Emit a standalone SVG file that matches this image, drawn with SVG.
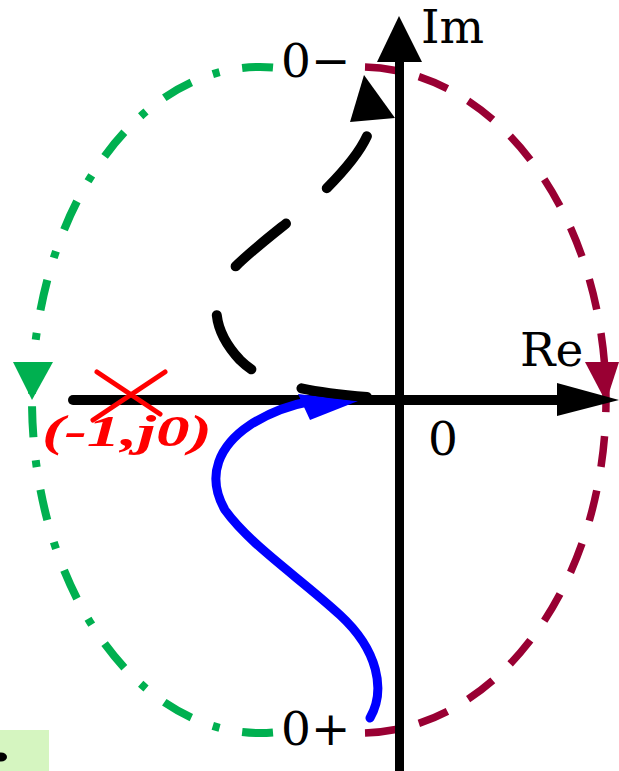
<svg xmlns="http://www.w3.org/2000/svg" width="619" height="771" viewBox="0 0 619 771">
<style>
.green{fill:none;stroke:#00b050;stroke-width:8;stroke-dasharray:31 23 7 23}
.purple{fill:none;stroke:#990033;stroke-width:7.5;stroke-dasharray:31 24}
.axis{fill:none;stroke:#000;stroke-width:10;stroke-linecap:round}
.lbl{font-family:"DejaVu Serif",serif;font-size:47px;fill:#000}
</style>
<rect width="619" height="771" fill="#fff"/>
<g id="bg-box">
<rect x="0" y="730" width="49" height="41" fill="#d5f5c0"/>
<ellipse cx="1" cy="757" rx="6" ry="4.5" fill="#000"/>
</g>
<g id="connectors">
<g id="green-arc">
<path class="green" d="M273,67.5 A228,333 0 0 0 32,400"/>
<path class="green" d="M273,732.5 A228,333 0 0 1 32,400"/>
<polygon points="13,362 53,362 32,400" fill="#00b050"/>
</g>
<g id="purple-arc">
<path class="purple" d="M365,67 A246,333 0 0 1 606,400"/>
<path class="purple" d="M365,733 A246,333 0 0 0 606,400"/>
<polygon points="585,362 619,362 606,402" fill="#990033"/>
</g>
<g id="axes">
<line class="axis" x1="73" y1="400" x2="565" y2="400"/>
<polygon points="557,383 557,416 619,400" fill="#000"/>
<line x1="399.5" y1="55" x2="399.5" y2="771" stroke="#000" stroke-width="9"/>
<polygon points="377,62 422,62 399,16" fill="#000"/>
</g>
<g id="blue-curve">
<path d="M370,718 C386,690 378,650 340,615 C300,578 250,545 225,510 C205,475 220,445 250,425 C270,412 290,405 312,401" fill="none" stroke="#0000ff" stroke-width="9" stroke-linecap="round"/>
<polygon points="298,394 358,401 310,420" fill="#0000ff"/>
</g>
<g id="black-dashed">
<path d="M367,397 C310,392 265,385 240,360 C215,333 205,300 235,267 C262,240 300,215 325,190 C350,165 365,145 370,128" fill="none" stroke="#000" stroke-width="10" stroke-linecap="round" stroke-dasharray="66 54"/>
<polygon points="350,122 395,118 364,75" fill="#000"/>
</g>
</g>
<g id="critical-point">
<line x1="97" y1="372" x2="160" y2="414" stroke="#ff0000" stroke-width="5" stroke-linecap="round"/>
<line x1="165" y1="372" x2="93" y2="420" stroke="#ff0000" stroke-width="5" stroke-linecap="round"/>
<text x="42" y="446" font-family="'Liberation Serif',serif" font-size="45" font-weight="bold" font-style="italic" fill="#ff0000" textLength="170" lengthAdjust="spacingAndGlyphs">(-1,j0)</text>
</g>
<g id="labels">
<text class="lbl" x="421" y="43">Im</text>
<text class="lbl" x="520" y="366">Re</text>
<text class="lbl" x="281" y="77">0−</text>
<text class="lbl" x="281" y="745">0+</text>
<text class="lbl" x="428" y="455">0</text>
</g>
</svg>
